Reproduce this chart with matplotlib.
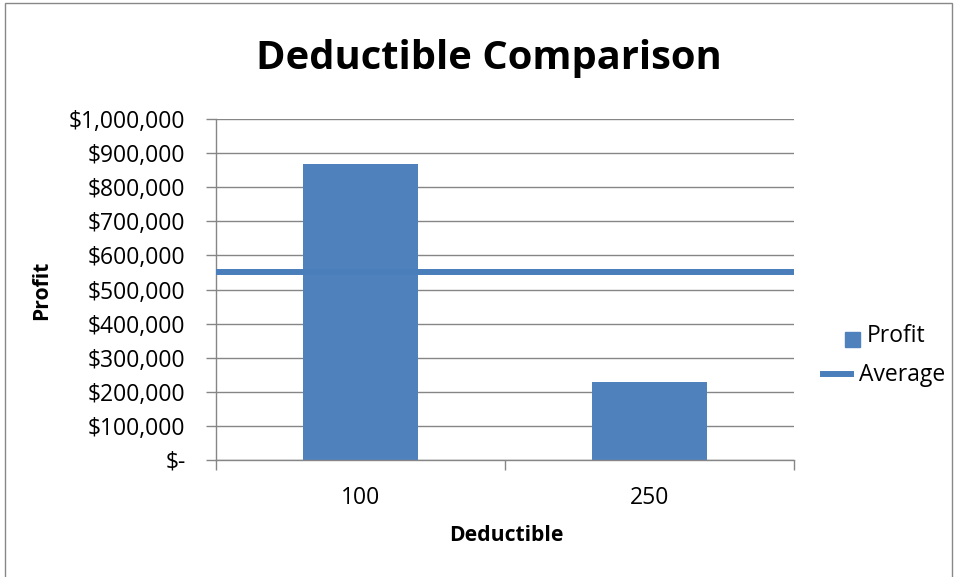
import matplotlib
matplotlib.use("Agg")
import matplotlib.pyplot as plt
from matplotlib.patches import Rectangle
from matplotlib.lines import Line2D
from matplotlib.ticker import FuncFormatter

categories = ["100", "250"]
profit = [868000, 230000]
average = 550000
y_ticks = [0, 100000, 200000, 300000, 400000, 500000, 600000, 700000, 800000, 900000, 1000000]
series_names = ["Profit", "Average"]

plt.rcParams['font.family'] = ['Open Sans', 'DejaVu Sans']

BLUE = "#4F81BD"
LINE = "#4A7EBB"
GRID = "#868686"

W, H = 958, 577
fig = plt.figure(figsize=(W / 100, H / 100), dpi=100)
fig.patches.append(Rectangle((0.005, -0.01), 0.989, 1.005, transform=fig.transFigure,
                             fill=False, edgecolor="#888888", linewidth=1.0))

ax = fig.add_axes([216 / W, 1 - 460 / H, 578 / W, 341 / H])
x = list(range(len(categories)))
ax.bar(x, profit, width=0.395, color=BLUE, zorder=2)
ax.axhline(average, color=LINE, linewidth=4.3, zorder=3)

ax.set_xlim(-0.5, len(categories) - 0.5)
ax.set_ylim(0, 1000000)
ax.set_yticks(y_ticks)

def fmt(v, pos):
    if v == 0:
        return "$-"
    return "${:,.0f}".format(v)

ax.yaxis.set_major_formatter(FuncFormatter(fmt))
ax.set_xticks([i - 0.5 for i in range(len(categories) + 1)])
ax.set_xticklabels([])
ax.set_xticks(x, minor=True)
ax.set_xticklabels(categories, minor=True)
ax.tick_params(axis='x', which='minor', length=0, pad=19, labelsize=16.5)
ax.tick_params(axis='x', which='major', length=7, color=GRID, width=1)
ax.tick_params(axis='y', length=7, color=GRID, width=1, labelsize=16.5, pad=15)

ax.grid(axis='y', color=GRID, linewidth=1, zorder=0)
ax.set_axisbelow(True)
for s in ["top", "right"]:
    ax.spines[s].set_visible(False)
for s in ["left", "bottom"]:
    ax.spines[s].set_color(GRID)
    ax.spines[s].set_linewidth(1)

ax.set_xlabel("Deductible", fontsize=15.2, fontweight="bold")
ax.xaxis.set_label_coords((506 - 216) / 578, (460 - 525) / 341)
ax.set_ylabel("Profit", fontsize=15.2, fontweight="bold")
ax.yaxis.set_label_coords((52 - 216) / 578, (460 - 290) / 341)

fig.text(489 / W, 1 - 58 / H, "Deductible Comparison", fontsize=28.7, fontweight="bold",
         ha="center", va="center")

# legend (Excel style)
fig.patches.append(Rectangle((845 / W, 1 - 347 / H), 15 / W, 15 / H, transform=fig.transFigure,
                             color=BLUE))
fig.text(867 / W, 1 - 336 / H, series_names[0], fontsize=16.5, ha="left", va="center")
fig.lines.append(Line2D([823 / W, 851 / W], [1 - 374 / H, 1 - 374 / H], transform=fig.transFigure,
                        color=LINE, linewidth=4.3))
fig.text(859 / W, 1 - 375 / H, series_names[1], fontsize=16.5, ha="left", va="center")

fig.savefig("out.png", dpi=100)
